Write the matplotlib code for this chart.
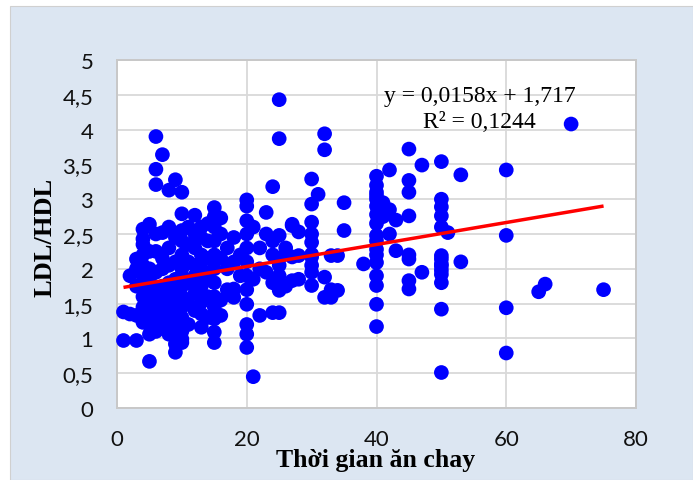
import matplotlib
matplotlib.use("Agg")
import matplotlib.pyplot as plt
from matplotlib.patches import Rectangle
import numpy as np

# ---- data ----
time_years = [
    1, 1,
    2, 2,
    3, 3, 3, 3, 3,
    4, 4, 4, 4, 4, 4, 4, 4, 4, 4,
    5, 5, 5, 5, 5, 5, 5, 5, 5, 5, 5,
    6, 6, 6, 6, 6, 6, 6, 6, 6, 6, 6,
    7, 7, 7, 7, 7, 7, 7, 7,
    8, 8, 8, 8, 8, 8, 8, 8, 8,
    9, 9, 9, 9, 9, 9, 9, 9, 9, 9, 9,
    10, 10, 10, 10, 10, 10, 10, 10, 10, 10, 10, 10, 10, 10,
    11, 11, 11, 11, 11, 11,
    12, 12, 12, 12, 12, 12, 12,
    13, 13, 13, 13, 13, 13, 13, 13,
    14, 14, 14, 14, 14, 14,
    15, 15, 15, 15, 15, 15, 15, 15, 15, 15, 15, 15,
    16, 16, 16, 16, 16,
    17, 17, 17,
    18, 18, 18, 18,
    19, 19,
    20, 20, 20, 20, 20, 20, 20, 20, 20, 20, 20, 20,
    21, 21, 21,
    22, 22, 22,
    23, 23, 23,
    24, 24, 24, 24, 24,
    25, 25, 25, 25, 25, 25, 25, 25, 25,
    26, 26,
    27, 27, 27, 27,
    28, 28, 28,
    30, 30, 30, 30, 30, 30, 30, 30, 30, 30,
    31,
    32, 32, 32, 32,
    33, 33, 33,
    34, 34,
    35, 35,
    38,
    40, 40, 40, 40, 40, 40, 40, 40, 40, 40, 40, 40, 40, 40, 40, 40, 40,
    41, 41,
    42, 42, 42,
    43, 43,
    45, 45, 45, 45, 45, 45, 45, 45,
    47, 47,
    50, 50, 50, 50, 50, 50, 50, 50, 50, 50, 50, 50, 50, 50,
    51,
    53, 53,
    60, 60, 60, 60,
    65,
    66,
    70,
    75,
]
ldl_hdl = [
    0.97, 1.38,
    1.35, 1.9,
    0.97, 1.33, 2.0, 2.14, 1.75,
    1.23, 1.45, 1.6, 1.75, 1.9, 2.05, 2.2, 2.35, 2.43, 2.57,
    0.67, 1.06, 1.2, 1.3, 1.4, 1.55, 1.65, 1.85, 2.0, 2.25, 2.64,
    3.9, 3.43, 3.21, 1.1, 1.3, 1.5, 1.6, 1.7, 1.95, 2.25, 2.5,
    3.64, 2.52, 1.15, 1.4, 1.6, 1.75, 2.0, 2.15,
    3.13, 1.06, 1.25, 1.5, 1.65, 1.8, 2.05, 2.3, 2.6,
    3.28, 0.8, 0.92, 1.05, 1.2, 1.35, 1.55, 1.7, 1.85, 2.1, 2.45,
    3.1, 2.79, 0.94, 0.99, 1.1, 1.3, 1.45, 1.6, 1.75, 1.9, 2.0, 2.2, 2.4, 2.55,
    1.2, 1.5, 1.8, 2.1, 2.35, 2.6,
    2.77, 1.4, 1.65, 1.9, 2.05, 2.3, 2.5,
    1.16, 1.35, 1.52, 1.75, 2.0, 2.2, 2.45, 2.6,
    1.3, 1.6, 1.85, 2.15, 2.4, 2.65,
    2.88, 0.94, 1.09, 1.28, 1.45, 1.6, 1.8, 2.0, 2.2, 2.4, 2.6, 2.75,
    2.73, 1.33, 1.55, 2.15, 2.5,
    1.7, 2.0, 2.3,
    1.71, 1.59, 2.1, 2.45,
    1.9, 2.2,
    2.99, 2.69, 0.87, 1.06, 1.2, 1.49, 1.7, 1.9, 2.1, 2.3, 2.5, 2.9,
    0.45, 1.85, 2.6,
    1.33, 2.0, 2.3,
    2.81, 1.95, 2.5,
    3.18, 1.37, 1.8, 2.4, 2.2,
    4.43, 3.87, 1.37, 1.69, 1.8, 1.9, 2.05, 2.15, 2.48,
    1.75, 2.3,
    2.64, 2.62, 2.17, 1.83,
    2.53, 2.19, 1.85,
    3.29, 2.93, 2.67, 2.5, 2.38, 2.21, 2.17, 2.05, 1.95, 1.76,
    3.07,
    3.94, 3.71, 1.59, 1.88,
    1.59, 2.19, 1.7,
    1.69, 2.19,
    2.95, 2.55,
    2.07,
    3.33, 3.2, 3.1, 3.05, 3.0, 2.9, 2.78, 2.65, 2.48, 2.4, 2.28, 2.2, 2.09, 1.9, 1.76, 1.49, 1.17,
    2.95, 2.75,
    3.42, 2.85, 2.5,
    2.7, 2.26,
    3.72, 3.27, 3.1, 2.76, 2.2, 2.14, 1.83, 1.71,
    3.49, 1.95,
    3.54, 3.0, 2.89, 2.76, 2.6, 2.19, 2.14, 2.07, 2.04, 1.98, 1.92, 1.8, 1.42, 0.51,
    2.52,
    3.35, 2.1,
    3.42, 2.48, 1.44, 0.79,
    1.67,
    1.78,
    4.08,
    1.7,
]
trend_slope = 0.0158
trend_intercept = 1.717
equation_text = "y = 0,0158x + 1,717"
r2_text = "R² = 0,1244"
x_ticks = [0, 20, 40, 60, 80]
x_tick_labels = ["0", "20", "40", "60", "80"]
y_ticks = [0, 0.5, 1, 1.5, 2, 2.5, 3, 3.5, 4, 4.5, 5]
y_tick_labels = ["0", "0,5", "1", "1,5", "2", "2,5", "3", "3,5", "4", "4,5", "5"]
x_label = "Thời gian ăn chay"
y_label = "LDL/HDL"

# ---- figure ----
W, H = 693, 481
fig = plt.figure(figsize=(W / 100, H / 100), dpi=100)
fig.patch.set_facecolor("white")
bg = Rectangle((10 / W, 0), 1 - 10 / W, 1 - 7 / H,
               transform=fig.transFigure, facecolor="#dce6f2",
               edgecolor="#d0d0d0", lw=0.8, zorder=-10)
fig.patches.append(bg)

ax = fig.add_axes([117 / W, 72 / H, 519 / W, 348 / H])
ax.set_zorder(1)
ax.set_facecolor("white")

ax.scatter(time_years, ldl_hdl, s=112, color="#0000ff", edgecolors="none",
           zorder=3, clip_on=False)

xt = np.array([min(time_years), max(time_years)], dtype=float)
ax.plot(xt, trend_slope * xt + trend_intercept, color="#ff0000", lw=2.5,
        zorder=4, solid_capstyle="butt")

ax.set_xlim(0, 80)
ax.set_ylim(0, 5)
ax.set_xticks(x_ticks)
ax.set_xticklabels(x_tick_labels)
ax.set_yticks(y_ticks)
ax.set_yticklabels(y_tick_labels)
for lab in ax.get_xticklabels() + ax.get_yticklabels():
    lab.set_fontfamily(["Lato", "DejaVu Sans"])
    lab.set_fontsize(16)
    lab.set_color("#111111")
ax.tick_params(axis="both", length=0)
ax.tick_params(axis="y", pad=17)
ax.tick_params(axis="x", pad=15)

ax.grid(True, color="#d9d9d9", lw=1.3, zorder=0)
ax.set_axisbelow(True)
for side in ["left", "bottom", "top", "right"]:
    ax.spines[side].set_color("#c8c8c8")
    ax.spines[side].set_linewidth(1.4)

serif = ["Liberation Serif", "DejaVu Serif"]
ax.text(55.9, 4.41, equation_text, ha="center", va="baseline",
        family=serif, size=17, color="black", zorder=5)
ax.text(55.9, 4.04, r2_text, ha="center", va="baseline",
        family=serif, size=17, color="black", zorder=5)

fig.text(376 / W, 1 - 467 / H, x_label, ha="center", va="baseline",
         family=serif, weight="bold", size=18.5, color="black")
fig.text(45 / W, 1 - 237 / H, y_label, ha="center", va="center",
         rotation=90, family=serif, weight="bold", size=19, color="black")

fig.savefig("out.png", dpi=100)
